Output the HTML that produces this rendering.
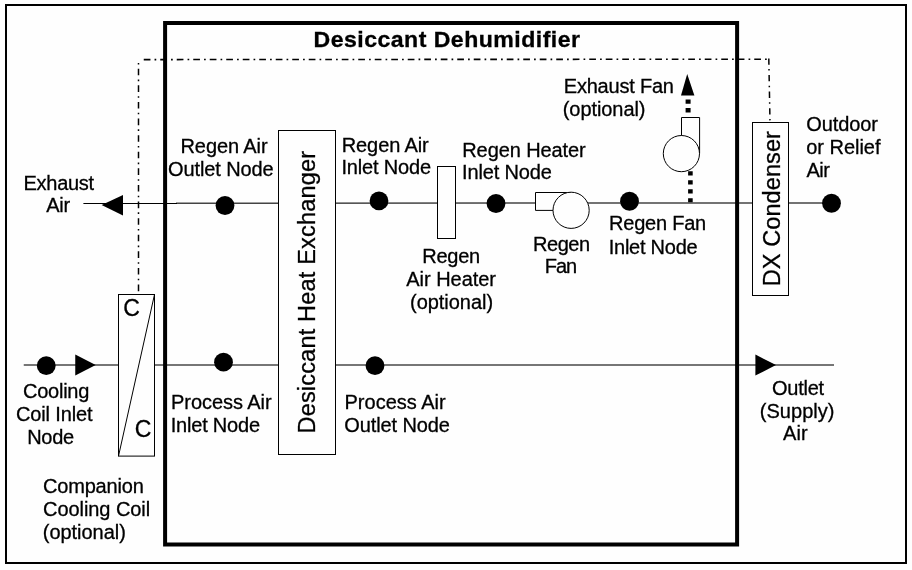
<!DOCTYPE html>
<html>
<head>
<meta charset="utf-8">
<title>Desiccant Dehumidifier</title>
<style>
html,body{margin:0;padding:0;background:#fff;}
body{width:912px;height:570px;overflow:hidden;font-family:"Liberation Sans",sans-serif;}
svg{display:block;will-change:transform;}
text{font-family:"Liberation Sans",sans-serif;fill:#000;stroke:#000;stroke-width:0.3px;}
</style>
</head>
<body>
<svg width="912" height="570" viewBox="0 0 912 570">
<rect x="0" y="0" width="912" height="570" fill="#fefefe"/>
<!-- outer frame -->
<rect x="6" y="5" width="900" height="558" fill="none" stroke="#000" stroke-width="2"/>
<!-- air stream lines -->
<line x1="176" y1="203.25" x2="831" y2="202.95" stroke="#444" stroke-width="1.5"/>
<line x1="83.4" y1="203.5" x2="177" y2="203.5" stroke="#000" stroke-width="1"/>
<line x1="23.75" y1="365" x2="834" y2="365" stroke="#767676" stroke-width="2"/>
<!-- dash-dot control lines -->
<line x1="138.5" y1="59.5" x2="138.5" y2="294" stroke="#000" stroke-width="1.5" stroke-dasharray="6.6 4.2 1.6 4.2" stroke-dashoffset="7.35"/>
<line x1="143.75" y1="59.6" x2="768" y2="59.2" stroke="#000" stroke-width="1.6" stroke-dasharray="6.7 4.1 1.7 4"/>
<line x1="768.8" y1="58.4" x2="770" y2="122" stroke="#000" stroke-width="1.5" stroke-dasharray="6.3 4.4 1.5 4.4" stroke-dashoffset="0"/>
<!-- dehumidifier boundary -->
<rect x="165.1" y="23" width="572" height="521.5" fill="none" stroke="#000" stroke-width="4"/>
<!-- exhaust fan dotted duct -->
<line x1="688.1" y1="99.4" x2="688.1" y2="113" stroke="#000" stroke-width="5" stroke-dasharray="4.4 4.3"/>
<line x1="690.4" y1="171.3" x2="690.4" y2="202.4" stroke="#000" stroke-width="4.6" stroke-dasharray="4.2 4.75"/>
<!-- component boxes -->
<g fill="#fefefe" stroke="#000" stroke-width="1">
<rect x="278.5" y="130.5" width="57" height="324"/>
<rect x="437.5" y="166.5" width="18" height="72"/>
<rect x="752.5" y="122.5" width="36" height="173"/>
<rect x="118.5" y="294.5" width="36" height="161.6"/>
<line x1="154.5" y1="294.5" x2="118.5" y2="456.1"/>
<!-- regen fan -->
<path d="M571,192.5 L535.5,192.5 L535.5,210.4 L553,210.4 Z"/>
<circle cx="571.1" cy="210.3" r="18.1"/>
<!-- exhaust fan -->
<path d="M681.5,153.5 L681.5,117.5 L699.6,117.5 L699.6,153.5 Z"/>
<circle cx="681.4" cy="153.6" r="18.1"/>
</g>
<!-- nodes -->
<g fill="#000">
<circle cx="225" cy="205.5" r="9.4"/>
<circle cx="379" cy="200.9" r="9.4"/>
<circle cx="496" cy="203.5" r="9.4"/>
<circle cx="629.5" cy="201.25" r="9.4"/>
<circle cx="831.5" cy="203.25" r="9.4"/>
<circle cx="46.25" cy="365.7" r="9.4"/>
<circle cx="223.5" cy="362.2" r="9.4"/>
<circle cx="375" cy="365.7" r="9.4"/>
<polygon points="101.6,205.1 123,195 123,215.6"/>
<polygon points="75.25,354.4 75.25,375.6 95.7,365"/>
<polygon points="755.4,354.5 755.4,375.5 776,365.1"/>
<polygon points="687.2,74 681,95.4 694.4,95.4"/>
</g>
<!-- labels -->
<g>
<text x="23.500" y="189.50" font-size="20" letter-spacing="-0.267">Exhaust</text>
<text x="46.250" y="212.30" font-size="20" letter-spacing="-0.250">Air</text>
<text x="180.500" y="152.50" font-size="20" letter-spacing="-0.094">Regen Air</text>
<text x="168.000" y="175.70" font-size="20" letter-spacing="-0.100">Outlet Node</text>
<text x="341.750" y="151.50" font-size="20" letter-spacing="-0.100">Regen Air</text>
<text x="341.500" y="174.30" font-size="20" letter-spacing="-0.183">Inlet Node</text>
<text x="462.250" y="156.50" font-size="20" letter-spacing="-0.091">Regen Heater</text>
<text x="462.000" y="179.25" font-size="20" letter-spacing="-0.139">Inlet Node</text>
<text x="422.250" y="262.50" font-size="20" letter-spacing="-0.250">Regen</text>
<text x="406.250" y="285.50" font-size="20" letter-spacing="-0.028">Air Heater</text>
<text x="410.000" y="308.60" font-size="20" letter-spacing="-0.033">(optional)</text>
<text x="533.000" y="251.00" font-size="20" letter-spacing="-0.462">Regen</text>
<text x="544.750" y="272.50" font-size="20" letter-spacing="-1.000">Fan</text>
<text x="609.000" y="230.30" font-size="20" letter-spacing="-0.219">Regen Fan</text>
<text x="608.750" y="253.75" font-size="20" letter-spacing="-0.250">Inlet Node</text>
<text x="563.750" y="93.00" font-size="20" letter-spacing="-0.205">Exhaust Fan</text>
<text x="562.750" y="115.50" font-size="20" letter-spacing="-0.072">(optional)</text>
<text x="806.250" y="130.50" font-size="20" letter-spacing="-0.083">Outdoor</text>
<text x="806.250" y="154.00" font-size="20" letter-spacing="-0.031">or Relief</text>
<text x="806.500" y="176.80" font-size="20" letter-spacing="-0.500">Air</text>
<text x="772.000" y="394.90" font-size="20" letter-spacing="-0.250">Outlet</text>
<text x="759.750" y="417.50" font-size="20" letter-spacing="0.036">(Supply)</text>
<text x="783.000" y="440.20" font-size="20" letter-spacing="0.125">Air</text>
<text x="23.000" y="397.60" font-size="20" letter-spacing="-0.250">Cooling</text>
<text x="16.000" y="421.00" font-size="20" letter-spacing="-0.139">Coil Inlet</text>
<text x="27.250" y="443.60" font-size="20" letter-spacing="-0.333">Node</text>
<text x="43.000" y="492.50" font-size="20" letter-spacing="-0.188">Companion</text>
<text x="43.000" y="515.50" font-size="20" letter-spacing="-0.059">Cooling Coil</text>
<text x="42.750" y="538.60" font-size="20" letter-spacing="-0.028">(optional)</text>
<text x="171.000" y="408.85" font-size="20" letter-spacing="-0.060">Process Air</text>
<text x="170.750" y="431.85" font-size="20" letter-spacing="-0.206">Inlet Node</text>
<text x="344.500" y="408.50" font-size="20" letter-spacing="0.005">Process Air</text>
<text x="344.250" y="431.75" font-size="20" letter-spacing="-0.110">Outlet Node</text>
<text transform="translate(313.500 46.60) scale(1.05 1)" font-size="22" font-weight="700" stroke="none" letter-spacing="0.449">Desiccant Dehumidifier</text>
<text x="123.250" y="315.75" font-size="23" letter-spacing="0.000">C</text>
<text x="134.750" y="437.00" font-size="23" letter-spacing="0.000">C</text>
<text transform="translate(315.25 433.50) rotate(-90)" font-size="23.5" letter-spacing="0.185">Desiccant Heat Exchanger</text>
<text transform="translate(780.25 286.25) rotate(-90)" font-size="23.5" letter-spacing="0.091">DX Condenser</text>
</g>
</svg>
</body>
</html>
